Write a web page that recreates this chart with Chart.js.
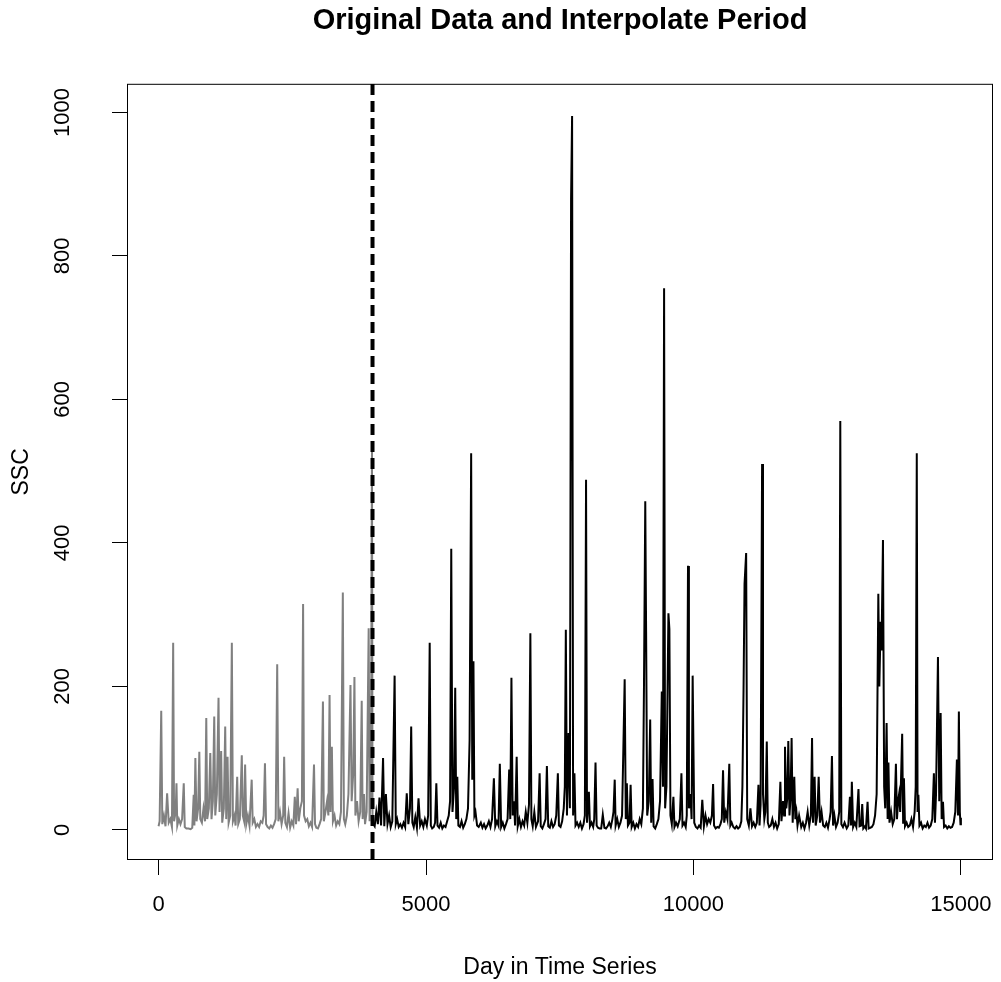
<!DOCTYPE html>
<html>
<head>
<meta charset="utf-8">
<title>Original Data and Interpolate Period</title>
<script src="https://cdn.jsdelivr.net/npm/chart.js@4/dist/chart.umd.min.js"></script>
<style>
  html, body { margin: 0; padding: 0; background: #ffffff; }
  #wrap { width: 1001px; height: 982px; }
</style>
</head>
<body>
<div id="wrap"><canvas id="ssc-chart" width="1001" height="982"></canvas></div>
<script>
// grey part of the record, day 0 - 4000
const earlyDays = [
  0, 20, 50, 70, 100, 130, 160, 190, 220, 250, 273, 290, 320, 335, 350, 380, 410, 440, 471, 490,
  520, 560, 600, 630, 657, 670, 688, 710, 740, 762, 780, 810, 840, 870, 892, 910, 940, 967, 990, 1015,
  1041, 1060, 1090, 1121, 1140, 1170, 1190, 1220, 1246, 1265, 1290, 1310, 1340, 1370, 1390, 1420, 1440, 1470, 1490, 1520,
  1556, 1575, 1600, 1618, 1640, 1670, 1700, 1741, 1760, 1790, 1820, 1850, 1880, 1910, 1940, 1965, 1989, 2010, 2040, 2070,
  2100, 2130, 2160, 2190, 2218, 2240, 2270, 2300, 2330, 2348, 2370, 2400, 2430, 2460, 2490, 2520, 2547, 2570, 2600, 2620,
  2650, 2680, 2702, 2720, 2750, 2780, 2810, 2840, 2870, 2906, 2925, 2950, 2980, 3010, 3040, 3073, 3090, 3120, 3150, 3175,
  3197, 3215, 3240, 3260, 3290, 3320, 3350, 3380, 3410, 3445, 3465, 3490, 3520, 3550, 3588, 3610, 3640, 3662, 3680, 3710,
  3740, 3770, 3798, 3815, 3840, 3860, 3890, 3928, 3945, 3970, 3990, 4000
];
const earlySSC = [
  5, 12, 166, 8, 20, 5, 51, 10, 15, 4, 261, 12, 25, 65, 6, 15, 8, 15, 65, 4,
  2, 2, 1, 3, 49, 6, 100, 12, 30, 109, 15, 10, 30, 12, 156, 15, 30, 107, 15, 40,
  158, 20, 50, 184, 25, 110, 10, 30, 144, 15, 102, 10, 20, 261, 12, 20, 6, 74, 8, 15,
  104, 20, 12, 91, 8, 20, 6, 70, 10, 15, 4, 8, 4, 12, 10, 20, 93, 8, 4, 2,
  6, 3, 8, 15, 231, 12, 25, 8, 20, 102, 10, 4, 23, 3, 12, 6, 46, 8, 58, 12,
  30, 40, 315, 20, 12, 15, 5, 10, 4, 91, 8, 3, 2, 8, 15, 179, 12, 25, 40, 20,
  188, 25, 116, 12, 20, 6, 12, 8, 25, 331, 15, 8, 20, 50, 202, 40, 80, 213, 20, 40,
  12, 25, 180, 15, 50, 8, 25, 281, 12, 50, 530, 10
];

// black part of the record, day 4000 - 15000
const lateDays = [
  4000, 4040, 4070, 4100, 4130, 4160, 4197, 4220, 4250, 4280, 4310, 4340, 4370, 4413, 4435, 4460, 4490, 4520, 4550, 4580,
  4610, 4640, 4670, 4700, 4723, 4745, 4770, 4800, 4830, 4860, 4890, 4920, 4950, 4980,
  5015, 5040, 5069, 5090, 5115, 5145, 5170, 5193, 5215, 5245, 5275, 5305, 5335, 5365, 5395, 5425, 5450, 5472, 5495, 5525,
  5546, 5565, 5585, 5605, 5635, 5665, 5695, 5725, 5755, 5785, 5815, 5844, 5865, 5887, 5905, 5925, 5955, 5985,
  6025, 6055, 6085, 6115, 6145, 6175, 6205, 6235, 6269, 6295, 6325, 6355, 6380, 6405, 6435, 6465, 6495, 6525, 6555, 6575,
  6597, 6620, 6645, 6665, 6695, 6715, 6745, 6775, 6805, 6835, 6865, 6895, 6925, 6951, 6970, 6995, 7025, 7055, 7095, 7124,
  7145, 7175, 7205, 7235, 7260, 7285, 7315, 7345, 7375, 7405, 7435, 7465, 7485, 7515, 7545, 7575, 7595, 7614, 7635, 7665,
  7690, 7712, 7731, 7750, 7775, 7795, 7825, 7855, 7885, 7915, 7945, 7970, 7992, 8010,
  8045, 8065, 8095, 8125, 8145, 8169, 8190, 8215, 8245, 8275, 8305, 8335, 8365, 8395, 8425, 8455, 8485, 8505, 8528, 8545,
  8575, 8605, 8635, 8665, 8690, 8714, 8735, 8755, 8775, 8805, 8825, 8845, 8875, 8905, 8935, 8965, 8995, 9025, 9055, 9075,
  9099, 9115, 9135, 9165, 9191, 9210, 9235, 9255, 9285, 9315, 9345, 9375, 9408, 9430, 9451, 9470, 9495, 9532, 9550, 9570,
  9595, 9625, 9645, 9675, 9705, 9745, 9775, 9795, 9825, 9855, 9875, 9898, 9915, 9945, 9965, 9985,
  10015, 10045, 10075, 10105, 10135, 10165, 10195, 10225, 10255, 10285, 10315, 10345, 10367, 10385, 10415, 10445, 10475, 10505, 10530, 10553,
  10575, 10605, 10635, 10670, 10690, 10715, 10745, 10775, 10805, 10835, 10865, 10895, 10915, 10936, 10955, 10985, 11005, 11035, 11065, 11095,
  11125, 11155, 11185, 11215, 11235, 11255, 11283, 11300, 11325, 11345, 11371, 11390, 11415, 11445, 11475, 11505, 11535, 11565, 11595, 11625,
  11645, 11675, 11695, 11711, 11735, 11755, 11773, 11795, 11815, 11835, 11855, 11885, 11905, 11925, 11945, 11975,
  12015, 12045, 12075, 12105, 12135, 12165, 12195, 12217, 12235, 12265, 12285, 12315, 12341, 12365, 12395, 12425, 12455, 12485, 12515, 12545,
  12565, 12589, 12610, 12635, 12665, 12695, 12725, 12745, 12765, 12795, 12825, 12865, 12895, 12925, 12945, 12961, 12985, 13015, 13045, 13085,
  13105, 13135, 13155, 13175, 13205, 13225, 13255, 13275, 13305, 13335, 13365, 13395, 13425, 13456, 13475, 13500, 13515, 13543, 13565, 13585,
  13611, 13630, 13645, 13665, 13695, 13725, 13755, 13785, 13805, 13825, 13845, 13865, 13902, 13920, 13935, 13955, 13985, 14015, 14045, 14075,
  14105, 14135, 14155, 14175, 14190, 14205, 14225, 14255, 14285, 14315, 14345, 14375, 14405, 14435, 14465, 14495, 14515, 14535, 14571, 14595,
  14621, 14640, 14665, 14685, 14715, 14745, 14775, 14805, 14835, 14865, 14895, 14925, 14945, 14962, 14980, 14992, 15000
];
const lateSSC = [
  10, 5, 25, 8, 45, 6, 100, 5, 50, 8, 20, 4, 12, 215, 8, 15, 4, 8, 3, 10,
  4, 51, 8, 30, 144, 10, 4, 18, 3, 44, 6, 12, 4, 15,
  6, 20, 261, 6, 2, 4, 10, 65, 6, 3, 10, 2, 6, 4, 12, 20, 40, 392, 25, 60,
  198, 15, 74, 6, 4, 12, 3, 8, 15, 30, 125, 525, 70, 235, 20, 25, 6, 4,
  10, 3, 8, 2, 6, 12, 4, 15, 72, 5, 12, 6, 92, 4, 10, 2, 8, 15, 84, 15,
  212, 20, 40, 6, 102, 5, 15, 4, 12, 6, 25, 10, 35, 274, 15, 5, 25, 4, 12, 79,
  5, 2, 8, 15, 89, 5, 3, 12, 4, 8, 20, 79, 6, 4, 12, 30, 60, 279, 20, 135,
  30, 880, 995, 20, 79, 6, 10, 4, 10, 2, 8, 20, 488, 10,
  53, 5, 10, 4, 15, 94, 6, 3, 2, 2, 21, 3, 2, 5, 10, 4, 15, 25, 70, 6,
  15, 4, 10, 20, 115, 210, 15, 65, 6, 10, 63, 4, 10, 2, 8, 4, 15, 8, 30, 200,
  458, 276, 20, 40, 154, 10, 71, 5, 2, 8, 15, 40, 193, 60, 755, 30, 60, 302, 280, 20,
  8, 46, 4, 10, 5, 15, 79, 6, 10, 4, 20, 368, 30, 50, 15, 215,
  10, 4, 2, 6, 3, 42, 5, 20, 8, 15, 10, 20, 64, 6, 2, 4, 3, 8, 15, 83,
  10, 25, 15, 92, 6, 10, 4, 2, 5, 2, 4, 12, 60, 193, 343, 386, 15, 6, 30, 5,
  10, 4, 10, 63, 6, 35, 510, 50, 15, 25, 123, 10, 4, 6, 15, 4, 10, 2, 8, 67,
  12, 40, 20, 116, 30, 45, 124, 20, 45, 128, 10, 74, 15, 25, 6, 20,
  4, 10, 2, 10, 25, 6, 20, 128, 10, 74, 6, 20, 74, 10, 25, 6, 4, 10, 3, 15,
  25, 103, 6, 20, 4, 10, 25, 570, 8, 4, 10, 2, 6, 46, 6, 67, 4, 10, 4, 57,
  5, 6, 36, 2, 5, 2, 39, 2, 3, 4, 8, 20, 50, 329, 200, 290, 250, 404, 60, 30,
  149, 15, 94, 10, 25, 8, 15, 92, 15, 40, 50, 25, 134, 10, 72, 5, 10, 4, 6, 15,
  4, 25, 60, 525, 25, 49, 6, 10, 2, 6, 4, 10, 3, 6, 15, 79, 10, 50, 241, 40,
  163, 15, 39, 4, 6, 2, 5, 3, 4, 10, 25, 98, 20, 165, 25, 8, 17
];

const splitDay = 4000;
const xTicks = [0, 5000, 10000, 15000];
const yTicks = [0, 200, 400, 600, 800, 1000];
const xRange = [-590, 15600];
const yRange = [-42, 1040];

function toPoints(days, vals) {
  let pts = [];
  for (let i = 0; i < days.length; i++) {
    pts.push({ x: days[i], y: vals[i] });
  }
  return pts;
}

// box around the plot region, like base R
const plotBox = {
  id: "plotBox",
  afterDraw(chart) {
    const { ctx, chartArea } = chart;
    ctx.save();
    ctx.strokeStyle = "#000";
    ctx.lineWidth = 1;
    ctx.strokeRect(chartArea.left + 0.5, chartArea.top + 0.5,
      chartArea.right - chartArea.left - 1, chartArea.bottom - chartArea.top - 1);
    ctx.restore();
  }
};

const fam = "'Liberation Sans', Arial, sans-serif";

let sscCanvas = document.getElementById("ssc-chart");
if (sscCanvas != null) {
  const sscChart = new Chart(sscCanvas, {
    type: "scatter",
    data: {
      datasets: [
        {
          label: "split",
          data: [{ x: splitDay, y: yRange[0] }, { x: splitDay, y: yRange[1] }],
          showLine: true,
          borderColor: "#000",
          borderWidth: 4,
          borderDash: [11, 6],
          pointRadius: 0,
        },
        {
          label: "late",
          data: toPoints(lateDays, lateSSC),
          showLine: true,
          borderColor: "#000",
          borderWidth: 2,
          pointRadius: 0,
        },
        {
          label: "early",
          data: toPoints(earlyDays, earlySSC),
          showLine: true,
          borderColor: "#808080",
          borderWidth: 2,
          pointRadius: 0,
        },
      ],
    },
    options: {
      responsive: false,
      animation: false,
      devicePixelRatio: 1,
      layout: { padding: { top: 0, right: 8, bottom: 0, left: 0 } },
      plugins: {
        legend: { display: false },
        tooltip: { enabled: false },
        title: {
          display: true,
          fullSize: false,
          text: "Original Data and Interpolate Period",
          color: "#000",
          font: { family: fam, size: 29, weight: "bold" },
          padding: { top: 4, bottom: 45 },
        },
      },
      scales: {
        x: {
          type: "linear",
          min: xRange[0],
          max: xRange[1],
          afterBuildTicks: (s) => { s.ticks = xTicks.map((v) => ({ value: v })); },
          afterFit: (s) => {
            s.height = 122;
            s.paddingLeft = 0;
            s.paddingRight = 0;
          },
          grid: { drawOnChartArea: false, drawTicks: true, tickLength: 15, color: "#000" },
          border: { display: false },
          ticks: {
            autoSkip: false,
            maxRotation: 0,
            padding: 17,
            color: "#000",
            font: { family: fam, size: 22 },
            callback: (v) => String(v),
          },
          title: {
            display: true,
            text: "Day in Time Series",
            color: "#000",
            font: { family: fam, size: 23 },
            padding: { top: 0, bottom: 1 },
          },
        },
        y: {
          type: "linear",
          min: yRange[0],
          max: yRange[1],
          afterBuildTicks: (s) => { s.ticks = yTicks.map((v) => ({ value: v })); },
          afterFit: (s) => {
            s.width = 127;
            s.paddingTop = 0;
            s.paddingBottom = 0;
          },
          grid: { drawOnChartArea: false, drawTicks: true, tickLength: 15, color: "#000" },
          border: { display: false },
          ticks: {
            autoSkip: false,
            minRotation: 90,
            maxRotation: 90,
            crossAlign: "center",
            padding: 25,
            color: "#000",
            font: { family: fam, size: 22 },
            callback: (v) => String(v),
          },
          title: {
            display: true,
            text: "SSC",
            color: "#000",
            font: { family: fam, size: 23 },
            padding: { top: 8, bottom: 0 },
          },
        },
      },
    },
    plugins: [plotBox],
  });
}
</script>
</body>
</html>
